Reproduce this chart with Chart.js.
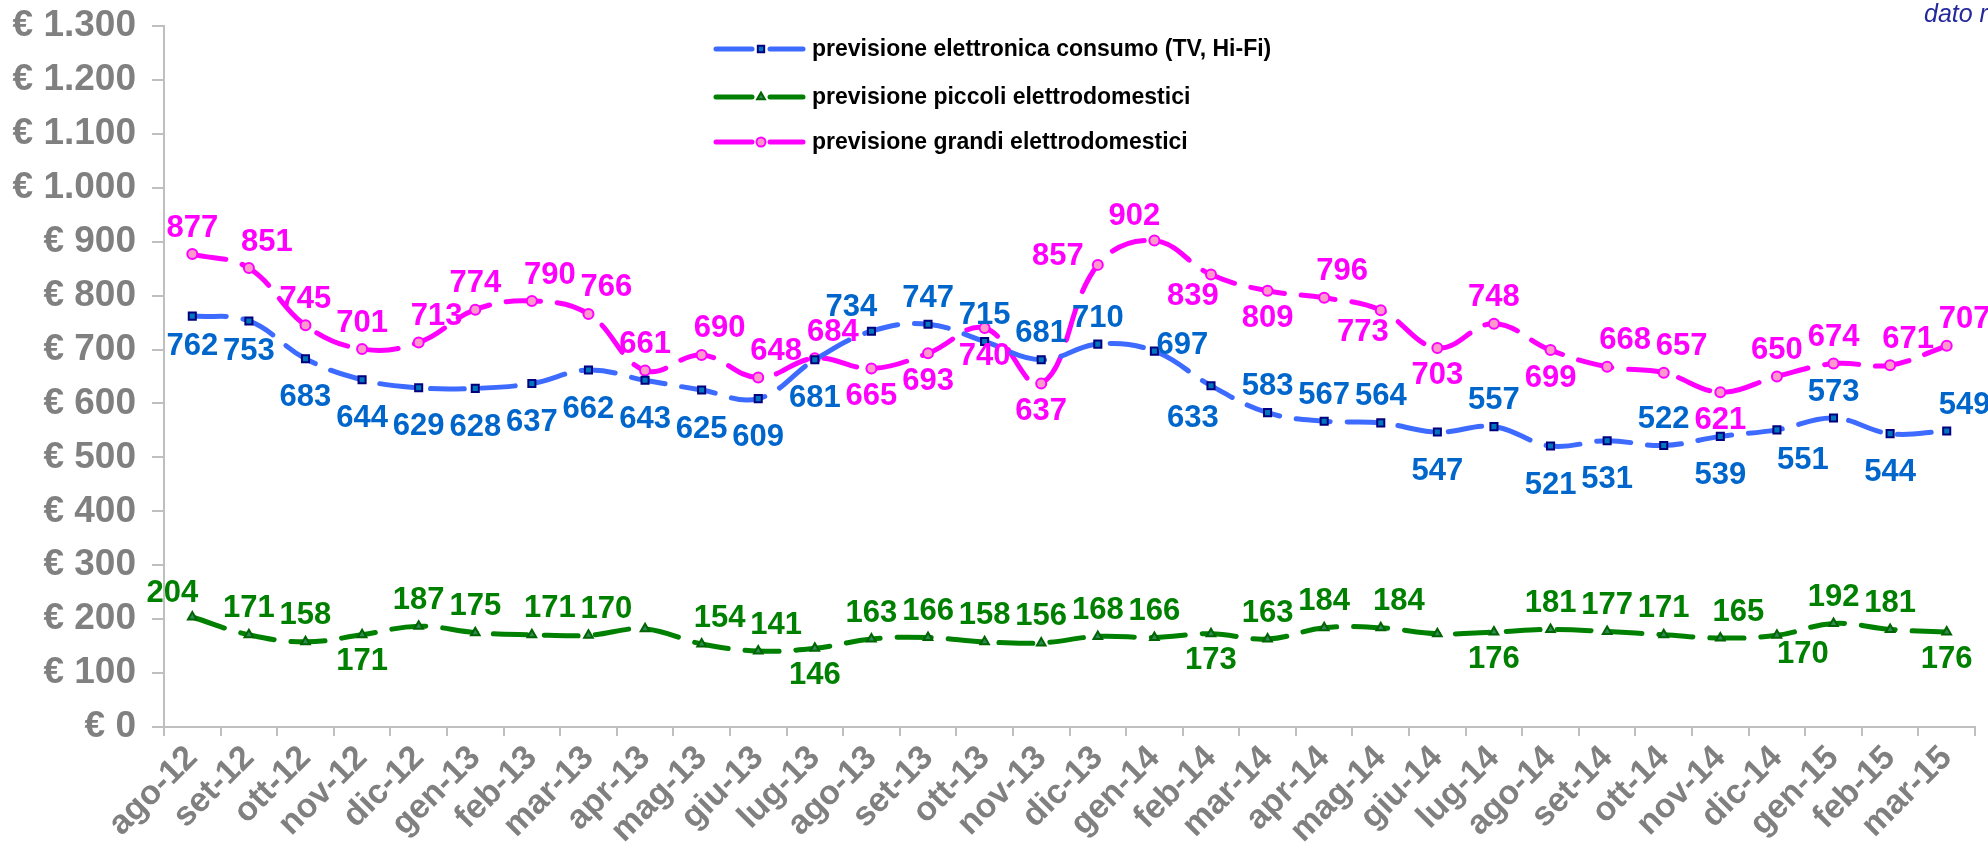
<!DOCTYPE html>
<html>
<head>
<meta charset="utf-8">
<title>Previsioni</title>
<script src="https://cdn.jsdelivr.net/npm/chart.js@4.4.1/dist/chart.umd.min.js"></script>
<style>
  html, body { margin: 0; padding: 0; background: #fff; }
  #wrap { width: 1988px; height: 848px; }
</style>
</head>
<body>
<div id="wrap"><canvas id="chart" width="1988" height="848"></canvas></div>
<script>
const months = ["ago-12","set-12","ott-12","nov-12","dic-12","gen-13","feb-13","mar-13","apr-13","mag-13","giu-13","lug-13",
  "ago-13","set-13","ott-13","nov-13","dic-13","gen-14","feb-14","mar-14","apr-14","mag-14","giu-14","lug-14",
  "ago-14","set-14","ott-14","nov-14","dic-14","gen-15","feb-15","mar-15"];

const elettronica = [762,753,683,644,629,628,637,662,643,625,609,681,734,747,715,681,710,697,633,583,567,564,547,557,521,531,522,539,551,573,544,549];
const piccoli = [204,171,158,171,187,175,171,170,182,154,141,146,163,166,158,156,168,166,173,163,184,184,173,176,181,177,171,165,170,192,181,176];
const grandi = [877,851,745,701,713,774,790,766,661,690,648,684,665,693,740,637,857,902,839,809,796,773,703,748,699,668,657,621,650,674,671,707];

const seriesNames = ["previsione elettronica consumo (TV, Hi-Fi)", "previsione piccoli elettrodomestici", "previsione grandi elettrodomestici"];
const yTicks = [0,100,200,300,400,500,600,700,800,900,1000,1100,1200,1300];
const noteText = "dato reale";

// where each value label sits relative to its point ('' = no label)
const elettronicaLabelPos = ["bn","bn","b","b","b","b","b","b","b","b","b","b","al","a","a","a","a","r","bl","a","a","a","b","a","b","b","a","b","br","a","b","ar"];
const piccoliLabelPos = ["al","a","a","b","a","a","ar","ar","","ar","ar","b","a","a","a","a","a","a","b","a","a","ar","","b","a","a","a","ar","br","a","a","b"];
const grandiLabelPos = ["a","ar","a","a","ar","a","ar","ar","a","ar","ar","ar","b","b","b","b","l","al","bl","b","ar","bl","b","a","b","ar","ar","b","a","a","ar","ar"];

const FONT = '"Liberation Sans", Arial, sans-serif';

function euro(v) {
    return "€ " + String(v).replace(/\B(?=(\d{3})+(?!\d))/g, ".");
}

const valueLabels = {
    id: "valueLabels",
    afterDatasetsDraw(chart) {
        const ctx = chart.ctx;
        chart.data.datasets.forEach((ds, i) => {
            const meta = chart.getDatasetMeta(i);
            const B = ds.labelBelow;
            const offs = { a: [0,-26], ar: [18,-26], al: [-20,-24], b: [0,B], bn: [0,30], br: [26,B-8], bl: [-18,B-6], r: [28,-6], l: [-40,-8] };
            ctx.save();
            ctx.font = "bold 31px " + FONT;
            ctx.fillStyle = ds.labelColor;
            ctx.textAlign = "center";
            ctx.textBaseline = "middle";
            meta.data.forEach((pt, j) => {
                const p = ds.labelPos[j];
                if (!p) return;
                const o = offs[p];
                ctx.fillText(String(ds.data[j]), pt.x + o[0], pt.y + o[1]);
            });
            ctx.restore();
        });
    }
};

const sideLegend = {
    id: "sideLegend",
    afterDraw(chart) {
        const ctx = chart.ctx;
        const x0 = 716, rows = [49, 97, 142];
        chart.data.datasets.forEach((ds, i) => {
            const y = rows[i];
            ctx.save();
            ctx.strokeStyle = ds.borderColor;
            ctx.lineWidth = ds.borderWidth;
            ctx.lineCap = "round";
            ctx.beginPath();
            ctx.moveTo(x0, y); ctx.lineTo(x0 + 36, y);
            ctx.moveTo(x0 + 54, y); ctx.lineTo(x0 + 87, y);
            ctx.stroke();
            ctx.fillStyle = ds.pointBackgroundColor;
            ctx.strokeStyle = ds.pointBorderColor;
            ctx.lineWidth = ds.pointBorderWidth;
            Chart.helpers.drawPoint(ctx, { pointStyle: ds.pointStyle, radius: ds.pointRadius - 0.5, rotation: 0, borderWidth: ds.pointBorderWidth }, x0 + 45, y);
            ctx.fillStyle = "#000";
            ctx.font = "bold 23px " + FONT;
            ctx.textAlign = "left";
            ctx.textBaseline = "middle";
            ctx.fillText(ds.label, x0 + 96, y + 1);
            ctx.restore();
        });
        ctx.save();
        ctx.fillStyle = "#23299A";
        ctx.font = "italic 25px " + FONT;
        ctx.textBaseline = "alphabetic";
        ctx.fillText(noteText, 1924, 22);
        ctx.restore();
    }
};

function lineSet(label, data, color, labelColor, labelPos, labelBelow, pointStyle, pFill, pBorder, radius) {
    return {
        label: label,
        data: data,
        borderColor: color,
        borderWidth: 5,
        borderDash: [34, 17],
        borderCapStyle: "round",
        tension: 0.4,
        fill: false,
        pointStyle: pointStyle,
        pointRadius: radius,
        pointBackgroundColor: pFill,
        pointBorderColor: pBorder,
        pointBorderWidth: 2,
        labelColor: labelColor,
        labelPos: labelPos,
        labelBelow: labelBelow
    };
}

new Chart(document.getElementById("chart"), {
    type: "line",
    data: {
        labels: months,
        datasets: [
            lineSet(seriesNames[0], elettronica, "#3D6BFF", "#0066CC", elettronicaLabelPos, 39, "rect", "#0077BB", "#000080", 5),
            lineSet(seriesNames[1], piccoli, "#008000", "#008000", piccoliLabelPos, 27, "triangle", "#2E8B57", "#006400", 5),
            lineSet(seriesNames[2], grandi, "#FF00FF", "#FF00FF", grandiLabelPos, 28, "circle", "#FF99CC", "#FF00FF", 5)
        ]
    },
    options: {
        responsive: false,
        animation: false,
        layout: { padding: { left: 0, top: 26, right: 13, bottom: 0 } },
        plugins: { legend: { display: false }, tooltip: { enabled: false } },
        scales: {
            x: {
                offset: true,
                grid: { offset: true, drawOnChartArea: false, drawTicks: true, tickLength: 9, color: "#BFBFBF", lineWidth: 2 },
                border: { display: true, color: "#BFBFBF", width: 2 },
                ticks: { autoSkip: false, minRotation: 45, maxRotation: 45, padding: 2, color: "#808080", font: { family: FONT, size: 34, weight: "bold" } },
                afterFit(scale) { scale.height = 121; scale.paddingLeft = 0; scale.paddingRight = 0; }
            },
            y: {
                min: 0,
                max: 1300,
                afterBuildTicks(scale) { scale.ticks = yTicks.map(v => ({ value: v })); },
                grid: { drawOnChartArea: false, drawTicks: true, tickLength: 12, color: "#BFBFBF", lineWidth: 2 },
                border: { display: true, color: "#BFBFBF", width: 2 },
                ticks: { padding: 16, color: "#808080", font: { family: FONT, size: 37, weight: "bold" }, callback: v => euro(v) },
                afterFit(scale) { scale.width = 164; scale.paddingTop = 0; scale.paddingBottom = 0; }
            }
        }
    },
    plugins: [valueLabels, sideLegend]
});
</script>
</body>
</html>
